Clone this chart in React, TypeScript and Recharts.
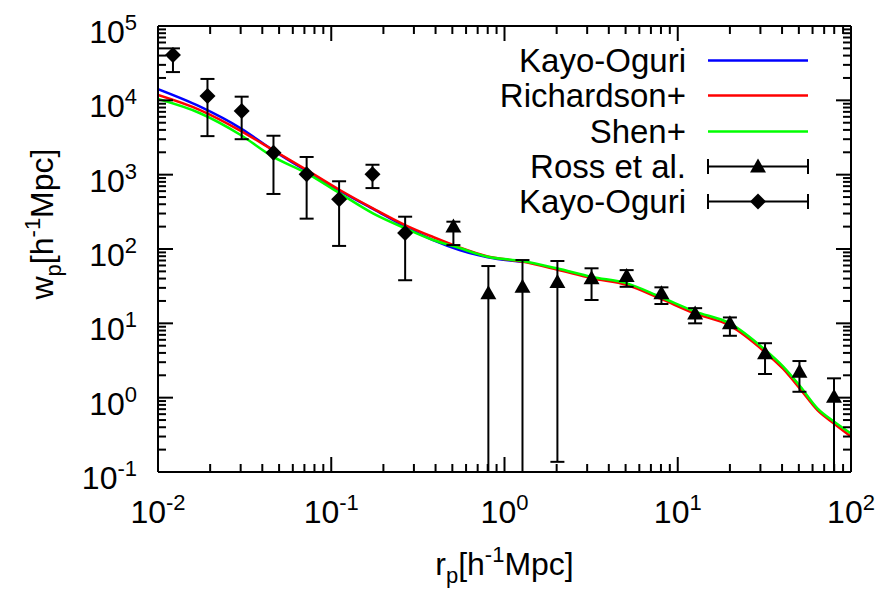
import React from 'react';
import { ComposedChart, Line, Scatter, ErrorBar, XAxis, YAxis, Legend } from 'recharts';

const FONT = '"Liberation Sans", Arial, Helvetica, sans-serif';

// model curves, r_p [h^-1 Mpc]
const rModel = [0.01, 0.0175, 0.03, 0.046, 0.072, 0.112, 0.174, 0.267, 0.387, 0.55, 0.8, 1.26,
    2.0, 3.2, 5.1, 7.9, 12.6, 20, 32, 40.5, 51, 64, 80, 100];
const wKayoModel = [14100, 8200, 4200, 2140, 1120, 603, 347, 200, 132, 97, 77.6, 67.6];
const wRichardson = [11800, 7400, 3890, 2150, 1160, 622, 352, 210, 145, 105, 79.4, 67.6,
    53, 40.3, 32.7, 21.6, 13.5, 9.3, 4.07, 2.45, 1.3, 0.68, 0.447, 0.3];
const wShen = [10400, 6700, 3420, 1750, 1050, 561, 302, 190, 132, 103, 78.7, 68.9,
    55, 42, 34.5, 22.8, 14.4, 10, 4.37, 2.63, 1.41, 0.72, 0.475, 0.33];

// Ross et al. measurements (lower bars that run off the bottom stop at the axis)
const rRoss = [0.507, 0.807, 1.27, 2.02, 3.18, 5.07, 8.05, 12.6, 20.0, 31.9, 50.4, 79.8];
const wRoss = [200, 25.4, 31, 36, 40.4, 43.3, 25.4, 13.6, 10, 3.95, 2.23, 1.03];
const wRossLo = [113, 0.1, 0.1, 0.137, 20.6, 31, 18.2, 10, 6.8, 2.08, 1.2, 0.1];
const wRossHi = [233, 59, 71, 69, 55, 52, 30.5, 16, 12, 5.4, 3.11, 1.82];

// Kayo-Oguri measurements
const rKayo = [0.0122, 0.0193, 0.0304, 0.0464, 0.0721, 0.111, 0.173, 0.267];
const wKayo = [40700, 11400, 7200, 1970, 1010, 466, 1010, 164];
const wKayoLo = [24000, 3300, 3000, 550, 256, 110, 660, 38];
const wKayoHi = [50000, 19400, 11200, 3340, 1730, 815, 1360, 272];

const legendNames = ['Kayo-Oguri', 'Richardson+', 'Shen+', 'Ross et al.', 'Kayo-Oguri'];

const xDecades = [0.01, 0.1, 1, 10];
const yDecades = [0.1, 1, 10, 100, 1000, 10000];
const mult = [1, 2, 3, 4, 5, 6, 7, 8, 9];
const xTicks = [...xDecades.flatMap((d) => mult.map((m) => m * d)), 100];
const yTicks = [...yDecades.flatMap((d) => mult.map((m) => m * d)), 100000];

const curve = (xs: number[], ys: number[]) => ys.map((y, i) => ({ x: xs[i], y }));
const points = (xs: number[], ys: number[], lo: number[], hi: number[]) =>
    ys.map((y, i) => ({ x: xs[i], y, err: [y - lo[i], hi[i] - y] }));

const kayoModelData = curve(rModel, wKayoModel);
const richardsonData = curve(rModel, wRichardson);
const shenData = curve(rModel, wShen);
const rossData = points(rRoss, wRoss, wRossLo, wRossHi);
const kayoData = points(rKayo, wKayo, wKayoLo, wKayoHi);

const isMajor = (v: number) => Math.abs(Math.log10(v) - Math.round(Math.log10(v))) < 1e-6;
const expOf = (v: number) => Math.round(Math.log10(v));

const XTick = (props: any) => {
    const { x, y, payload, side } = props;
    const v = payload.value;
    const major = isMajor(v);
    const len = major ? 15 : 8;
    const dir = side === 'top' ? 1 : -1;
    return (
        <g>
            <line x1={x} y1={y} x2={x} y2={y + dir * len} stroke="#000" strokeWidth={2} />
            {major && side !== 'top' && (
                <text x={x} y={y + 51} textAnchor="middle" fontSize={32} fontFamily={FONT} fill="#000">
                    10<tspan dy={-13} fontSize={22}>{expOf(v)}</tspan>
                </text>
            )}
        </g>
    );
};

const YTick = (props: any) => {
    const { x, y, payload, side } = props;
    const v = payload.value;
    const major = isMajor(v);
    const len = major ? 15 : 8;
    const dir = side === 'right' ? -1 : 1;
    return (
        <g>
            <line x1={x} y1={y} x2={x + dir * len} y2={y} stroke="#000" strokeWidth={2} />
            {major && side !== 'right' && (
                <text x={x - 21} y={y + 17} textAnchor="end" fontSize={32} fontFamily={FONT} fill="#000">
                    10<tspan dy={-13} fontSize={22}>{expOf(v)}</tspan>
                </text>
            )}
        </g>
    );
};

const XLabel = (props: any) => {
    const vb = props.viewBox || { x: 158, y: 472, width: 693, height: 118 };
    return (
        <text x={vb.x + vb.width / 2} y={vb.y + 103} textAnchor="middle" fontSize={32} fontFamily={FONT} fill="#000">
            r<tspan fontSize={22} dy={8}>p</tspan>
            <tspan dy={-8}>[h</tspan>
            <tspan fontSize={22} dy={-13}>-1</tspan>
            <tspan dy={13}>Mpc]</tspan>
        </text>
    );
};

const YLabel = (props: any) => {
    const vb = props.viewBox || { x: 0, y: 26, width: 158, height: 446 };
    const cx = vb.x + 53;
    const cy = vb.y + 198;
    return (
        <text x={cx} y={cy} transform={`rotate(-90, ${cx}, ${cy})`} textAnchor="middle" fontSize={32} fontFamily={FONT} fill="#000">
            w<tspan fontSize={22} dy={8}>p</tspan>
            <tspan dy={-8}>[h</tspan>
            <tspan fontSize={22} dy={-13}>-1</tspan>
            <tspan dy={13}>Mpc]</tspan>
        </text>
    );
};

const Triangle = (props: any) => {
    const { cx, cy } = props;
    return <polygon points={`${cx},${cy - 8} ${cx - 8},${cy + 6} ${cx + 8},${cy + 6}`} fill="#000" />;
};

const Diamond = (props: any) => {
    const { cx, cy } = props;
    return <polygon points={`${cx},${cy - 8} ${cx + 8},${cy} ${cx},${cy + 8} ${cx - 8},${cy}`} fill="#000" />;
};

const legendKinds = [
    { color: '#0000ff', marker: null },
    { color: '#ff0000', marker: null },
    { color: '#00ff00', marker: null },
    { color: '#000000', marker: 'triangle' },
    { color: '#000000', marker: 'diamond' },
];

const LegendBox = () => (
    <div style={{ fontFamily: FONT, fontSize: 33, color: '#000' }}>
        {legendNames.map((name, i) => {
            const k = legendKinds[i];
            return (
                <div key={i} style={{ display: 'flex', alignItems: 'center', height: 35.25 }}>
                    <span style={{ width: 246, textAlign: 'right', lineHeight: '35px', whiteSpace: 'nowrap' }}>{name}</span>
                    <svg width={124} height={35}>
                        <line x1={22} y1={17.5} x2={122} y2={17.5} stroke={k.color} strokeWidth={k.marker ? 2 : 2.5} />
                        {k.marker && (
                            <>
                                <line x1={22} y1={10} x2={22} y2={25} stroke="#000" strokeWidth={2} />
                                <line x1={122} y1={10} x2={122} y2={25} stroke="#000" strokeWidth={2} />
                                {k.marker === 'triangle' ? <Triangle cx={72} cy={17.5} /> : <Diamond cx={72} cy={17.5} />}
                            </>
                        )}
                    </svg>
                </div>
            );
        })}
    </div>
);

const axisLine = { stroke: '#000', strokeWidth: 2 };

export default function App() {
    return (
        <div style={{ position: 'absolute', left: 0, top: 0, background: '#fff' }}>
            <ComposedChart width={880} height={590} margin={{ top: 25, right: 28, bottom: 0, left: 0 }}>
                <XAxis
                    dataKey="x"
                    type="number"
                    scale="log"
                    domain={[0.01, 100]}
                    allowDataOverflow
                    ticks={xTicks}
                    interval={0}
                    height={118}
                    tickSize={0}
                    tickMargin={0}
                    tickLine={false}
                    axisLine={axisLine}
                    tick={<XTick side="bottom" />}
                    label={<XLabel />}
                />
                <XAxis
                    xAxisId="top"
                    orientation="top"
                    dataKey="x"
                    type="number"
                    scale="log"
                    domain={[0.01, 100]}
                    allowDataOverflow
                    ticks={xTicks}
                    interval={0}
                    height={1}
                    tickSize={0}
                    tickMargin={0}
                    tickLine={false}
                    axisLine={axisLine}
                    tick={<XTick side="top" />}
                />
                <YAxis
                    dataKey="y"
                    type="number"
                    scale="log"
                    domain={[0.1, 100000]}
                    allowDataOverflow
                    ticks={yTicks}
                    interval={0}
                    width={158}
                    tickSize={0}
                    tickMargin={0}
                    tickLine={false}
                    axisLine={axisLine}
                    tick={<YTick side="left" />}
                    label={<YLabel />}
                />
                <YAxis
                    yAxisId="right"
                    orientation="right"
                    dataKey="y"
                    type="number"
                    scale="log"
                    domain={[0.1, 100000]}
                    allowDataOverflow
                    ticks={yTicks}
                    interval={0}
                    width={1}
                    tickSize={0}
                    tickMargin={0}
                    tickLine={false}
                    axisLine={axisLine}
                    tick={<YTick side="right" />}
                />
                <Line data={kayoModelData} dataKey="y" type="monotone" stroke="#0000ff" strokeWidth={2.5} dot={false} activeDot={false} isAnimationActive={false} />
                <Line data={richardsonData} dataKey="y" type="monotone" stroke="#ff0000" strokeWidth={2.5} dot={false} activeDot={false} isAnimationActive={false} />
                <Line data={shenData} dataKey="y" type="monotone" stroke="#00ff00" strokeWidth={2.5} dot={false} activeDot={false} isAnimationActive={false} />
                <Scatter data={rossData} dataKey="y" shape={<Triangle />} isAnimationActive={false}>
                    <ErrorBar dataKey="err" direction="y" width={7} stroke="#000" strokeWidth={2} />
                </Scatter>
                <Scatter data={kayoData} dataKey="y" shape={<Diamond />} isAnimationActive={false}>
                    <ErrorBar dataKey="err" direction="y" width={7} stroke="#000" strokeWidth={2} />
                </Scatter>
                <Legend
                    layout="vertical"
                    align="center"
                    verticalAlign="middle"
                    content={() => <LegendBox />}
                    wrapperStyle={{ left: 440, top: 43, width: 380 }}
                />
            </ComposedChart>
        </div>
    );
}
